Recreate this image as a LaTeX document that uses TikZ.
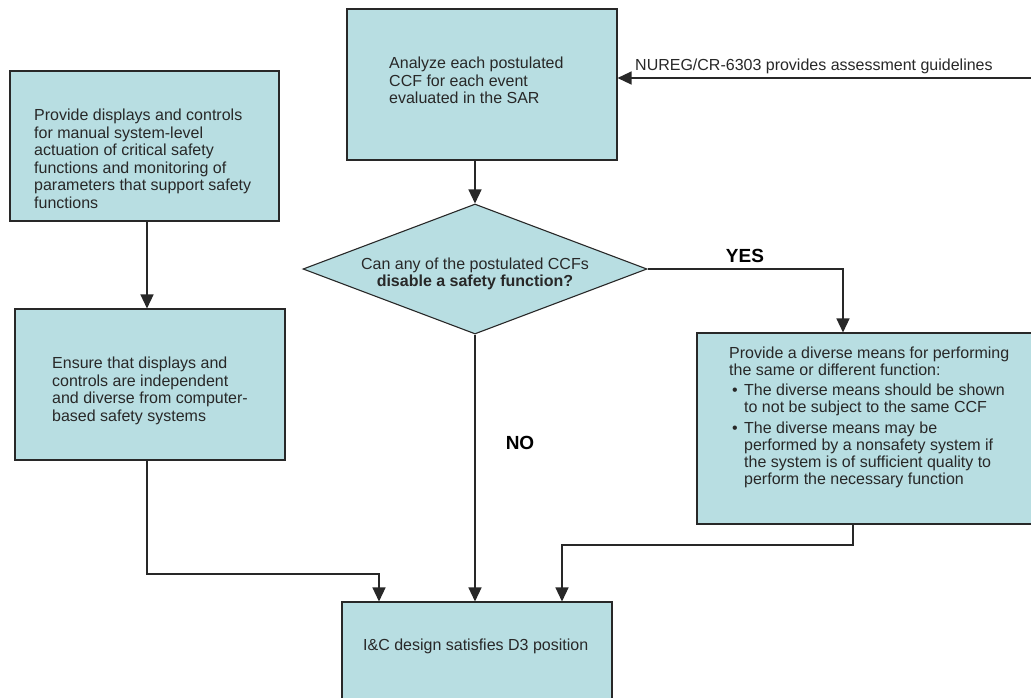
\documentclass[tikz,border=0pt]{standalone}
\usepackage{fontspec}
\setmainfont{Liberation Sans}
\usetikzlibrary{arrows.meta,shapes.geometric}
\definecolor{boxfill}{RGB}{184,222,226}
\definecolor{boxline}{RGB}{40,40,40}
\definecolor{txt}{RGB}{40,40,40}
\begin{document}
\begin{tikzpicture}[x=1pt,y=-1pt,
  every node/.style={font=\fontsize{16}{17.5}\selectfont},
  stepbox/.style={draw=boxline,line width=1.1pt,fill=boxfill,rectangle,inner sep=0pt},
  decbox/.style={draw=boxline,line width=1.1pt,fill=boxfill,diamond,aspect=2.65,
    minimum width=344pt,minimum height=130pt,inner sep=0pt},
  boxtext/.style={anchor=north west,inner sep=0pt,align=left,text=txt},
  answer/.style={inner sep=0pt,font=\fontsize{19}{20}\selectfont\bfseries,text=black},
  arr/.style={draw=boxline,line width=1.4pt,-{Triangle[length=14pt,width=13pt]}},
  link/.style={draw=boxline,line width=1.4pt}]
\clip (0,0) rectangle (1031,697);
\fill[white] (0,0) rectangle (1031,697);

% boxes
\node[stepbox,minimum width=270pt,minimum height=151pt] (analyze) at (482,84.5) {};
\node[stepbox,minimum width=269pt,minimum height=150pt] (manual) at (144.5,146) {};
\node[stepbox,minimum width=270pt,minimum height=151pt] (ensure) at (150,384.5) {};
\node[stepbox,minimum width=336pt,minimum height=191pt] (diverse) at (865,428.5) {};
\node[stepbox,minimum width=270pt,minimum height=110pt] (final) at (477,657) {};
\node[decbox] (dec) at (475,269) {};

% box texts
\node[inner sep=0pt,align=center,text=txt] (dectxt) at (475,274) {Can any of the postulated CCFs\\\textbf{disable a safety function?}};
\node[boxtext] (analyzetxt) at (389,57) {Analyze each postulated\\CCF for each event\\evaluated in the SAR};
\node[boxtext] (manualtxt) at (34,109) {Provide displays and controls\\for manual system-level\\actuation of critical safety\\functions and monitoring of\\parameters that support safety\\functions};
\node[boxtext] (ensuretxt) at (52,357) {Ensure that displays and\\controls are independent\\and diverse from computer-\\based safety systems};
\node[boxtext,font=\fontsize{16}{17}\selectfont] (diversetxt) at (729,347) {Provide a diverse means for performing\\
the same or different function:\\[3pt]
\makebox[15pt][l]{\hspace*{3pt}\textbullet}The diverse means should be shown\\
\hspace*{15pt}to not be subject to the same CCF\\[4pt]
\makebox[15pt][l]{\hspace*{3pt}\textbullet}The diverse means may be\\
\hspace*{15pt}performed by a nonsafety system if\\
\hspace*{15pt}the system is of sufficient quality to\\
\hspace*{15pt}perform the necessary function};
\node[boxtext] (finaltxt) at (363,639) {I\&C design satisfies D3 position};
\node[boxtext] (nuregtxt) at (635,59) {NUREG/CR-6303 provides assessment guidelines};

% answers
\node[answer] (yes) at (745,256) {YES};
\node[answer] (no) at (520,443) {NO};

% connector helpers
\coordinate (nuregsrc) at (1031,78);
\coordinate (leftcol) at (147,0);
\coordinate (j1) at (379,574);
\coordinate (yesx) at (843,0);
\coordinate (j2) at (853,545);
\coordinate (j3) at (562,545);

% connectors
\draw[arr] (nuregsrc) -- (nuregsrc -| analyze.east);
\draw[arr] (dec.north |- analyze.south) -- (dec.north);
\draw[arr] (leftcol |- manual.south) -- (leftcol |- ensure.north);
\draw[arr] (dec.east) -- (yesx |- dec.east) -- (yesx |- diverse.north);
\draw[arr] (dec.south) -- (dec.south |- final.north);
\draw[arr] (leftcol |- ensure.south) |- (j1) -- (j1 |- final.north);
\draw[arr] (j2 |- diverse.south) -- (j2) -- (j3) -- (j3 |- final.north);
\end{tikzpicture}
\end{document}
